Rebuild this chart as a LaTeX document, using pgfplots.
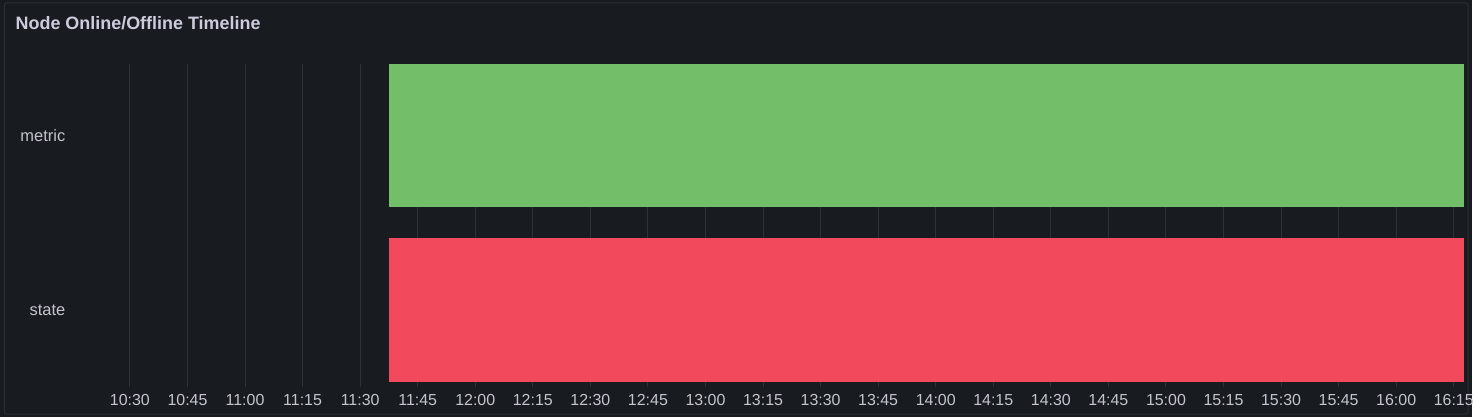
\documentclass[border=0pt]{standalone}
\usepackage{fontspec}
\setmainfont{Liberation Sans}
\usepackage{pgfplots}
\usepackage{pgfplotstable}
\pgfplotsset{compat=1.18}
\definecolor{bg}{HTML}{181B1F}
\definecolor{panelborder}{HTML}{2A2D33}
\definecolor{gridc}{HTML}{2E3136}
\definecolor{txt}{HTML}{CCCCDC}
\definecolor{tick}{HTML}{C4C5CF}
\definecolor{grn}{HTML}{73BF69}
\definecolor{rd}{HTML}{F2495C}
% minutes after 10:00; rows: 0 = state, 1 = metric
\pgfplotstableread{
row offset metric state
0   97.4   0      280.3
1   97.4   280.3  0
}\timeline
\begin{document}
\begin{tikzpicture}
\fill[bg] (0,0) rectangle (1477pt,418pt);
\draw[panelborder, line width=1pt, rounded corners=2pt] (4.5pt,2.5pt) rectangle (1473pt,415pt);
\node[anchor=base west, inner sep=0pt, text=txt, font=\fontsize{18}{20}\selectfont\bfseries] at (15.5pt,388pt) {Node Online/Offline Timeline};
\begin{axis}[
  at={(83pt,35pt)}, anchor=south west,
  scale only axis, width=1386pt, height=319pt,
  xmin=17.7, xmax=377.7, ymin=-0.411, ymax=1.411,
  xbar stacked, bar width=144pt,
  axis line style={draw=none},
  xtick={30,45,...,375},
  xticklabels={10:30,10:45,11:00,11:15,11:30,11:45,12:00,12:15,12:30,12:45,13:00,13:15,13:30,13:45,14:00,14:15,14:30,14:45,15:00,15:15,15:30,15:45,16:00,16:15},
  ytick={0,1}, yticklabels={state,metric},
  xmajorgrids, grid style={gridc, line width=1pt},
  tick align=outside, xtick pos=bottom, ytick pos=left,
  major tick length=5pt,
  xtick style={gridc, line width=1pt},
  ytick style={draw=none},
  /pgf/number format/assume math mode=true,
  xticklabel style={text=tick, font=\fontsize{16}{18}\selectfont, yshift=-4.5pt},
  yticklabel style={text=tick, font=\fontsize{16.5}{18}\selectfont, xshift=-9pt},
  clip=true,
]
\addplot[draw=none, fill=none] table[x=offset, y=row] {\timeline};
\addplot[draw=none, fill=grn] table[x=metric, y=row] {\timeline};
\addplot[draw=none, fill=rd] table[x=state, y=row] {\timeline};
\end{axis}
\end{tikzpicture}
\end{document}
